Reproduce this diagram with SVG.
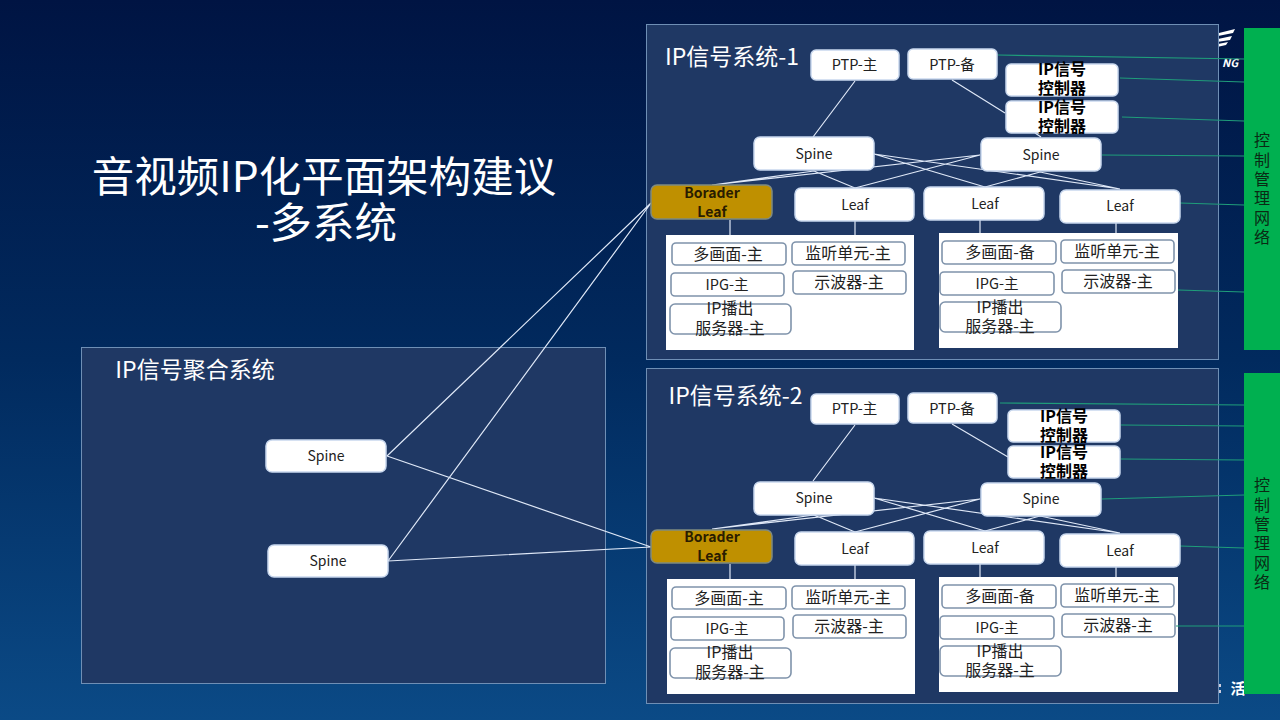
<svg xmlns="http://www.w3.org/2000/svg" width="1280" height="720" viewBox="0 0 1280 720">
<defs>
<linearGradient id="bg" x1="0" y1="0" x2="0" y2="1"><stop offset="0" stop-color="#001443"/><stop offset="0.5" stop-color="#012a5e"/><stop offset="1" stop-color="#0b4a86"/></linearGradient>
</defs>
<style>
text{font-family:"Noto Sans CJK SC","Noto Sans",sans-serif;text-anchor:middle}
.panel{fill:#1f3864;stroke:#6f8fb5;stroke-width:1}
.white{fill:#fff}
.n rect{fill:#fff;stroke:#c9d8ee;stroke-width:1.5}
.n text{font-size:14px;fill:#222}
.n .p{font-size:14.5px}
.b rect{fill:#fff;stroke:#7f93ab;stroke-width:1.6}
.b text{font-size:16px;fill:#222}
.b .i{font-size:14.5px}
.c rect{fill:#fff;stroke:#c9d8ee;stroke-width:1.5}
.c text{font-size:16px;font-family:"Noto Sans CJK SC",serif;font-weight:700;fill:#000}
.g rect{fill:#bf9000;stroke:#7f8a80;stroke-width:1.5}
.g text{font-size:14px;font-weight:700;fill:#2a1c00}
.t{font-size:23px;fill:#fff}
.w{stroke:#dfe8f7;stroke-width:1.2;fill:none}
.gr{stroke:#1f9d7a;stroke-width:1.2;fill:none}
.v{font-size:16px;fill:#0a2a14}
</style>
<rect width="1280" height="720" fill="url(#bg)"/>
<g id="logo"><path d="M1219 33l16-4-2 4-15 3zM1218 39l14-3-2 4-13 2zM1218 44l10-2-2 3-9 2z" fill="#fff"/>
<text x="1230" y="67" style="font-size:11px;font-weight:700;font-style:italic;fill:#fff">NG</text>
<text x="1238" y="694" style="font-size:15px;font-weight:700;fill:#fff">活</text>
<rect x="1219" y="684" width="2" height="3" fill="#ccd"/><rect x="1219" y="690" width="2" height="3" fill="#ccd"/></g>
<text x="324" y="192" style="font-size:42.500px;fill:#fff">音视频IP化平面架构建议</text>
<text x="326" y="238" style="font-size:42.500px;fill:#fff">-多系统</text>
<rect id="panel-1" class="panel" x="646.500" y="24.500" width="572" height="335"/>
<rect id="panel-2" class="panel" x="646.500" y="368.500" width="572" height="335"/>
<rect id="panel-agg" class="panel" x="81.500" y="347.500" width="524" height="336"/>
<rect class="white" x="666" y="235" width="248" height="115"/>
<rect class="white" x="939" y="233" width="239" height="115"/>
<rect class="white" x="667" y="579" width="248" height="115"/>
<rect class="white" x="939" y="577" width="239" height="115"/>
<g id="connectors">
<path class="w" d="M855 81L813 137M952 80L1005 113M1035 133L1041 137M814 171L855 188M874 154L985 187M874 154L1120 189M980 155L712 185M980 155L855 188M1040 172L985 187M814 171L712 185M1040 172L1120 189M730 220V235M855 221V235M980 220V233M1116 222V233"/>
<path class="w" d="M855 425L813 481M952 424L1008 457M814 515L855 532M874 498L985 531M874 498L1120 533M980 499L712 529M980 499L855 532M1040 516L985 531M814 515L712 529M1040 516L1120 533M730 564V579M855 565V579M980 564V577M1116 566V577"/>
<path class="w" d="M387 456L651 203M387 456L651 547M388 561L651 203M388 561L651 547"/>
<path class="gr" d="M998 55L1244 59M1120 78L1244 82M1122 117L1244 121M1102 155L1244 156M1180 203L1244 205M1178 290L1244 292M1000 403L1244 405M1121 425L1244 426M1121 459L1244 460M1102 499L1244 495M1180 546L1244 548M1176 626L1244 626"/>
</g>
<text class="t" x="732" y="65">IP信号系统-1</text>
<text class="t" x="735.500" y="404">IP信号系统-2</text>
<text class="t" x="195" y="378">IP信号聚合系统</text>
<g id="ag1" class="n"><rect x="266" y="440" width="120" height="32" rx="6"/><text x="326" y="461">Spine</text></g>
<g id="ag2" class="n"><rect x="268" y="545" width="120" height="32" rx="6"/><text x="328" y="566">Spine</text></g>

<g id="s1-ptp1" class="n"><rect x="811" y="50" width="88" height="30" rx="5"/><text class="p" x="854.500" y="70">PTP-主</text></g>
<g id="s1-ptp2" class="n"><rect x="908" y="49" width="89" height="30" rx="5"/><text class="p" x="952" y="70">PTP-备</text></g>
<g id="s1-c1" class="c"><rect x="1006" y="64" width="112" height="32" rx="5"/><text x="1062" y="75">IP信号</text><text x="1062" y="94">控制器</text></g>
<g id="s1-c2" class="c"><rect x="1006" y="101" width="112" height="32" rx="5"/><text x="1062" y="113">IP信号</text><text x="1062" y="132">控制器</text></g>
<g id="s1-sp1" class="n"><rect x="754" y="137" width="120" height="33" rx="6"/><text x="814" y="159">Spine</text></g>
<g id="s1-sp2" class="n"><rect x="981" y="138" width="120" height="33" rx="6"/><text x="1041" y="160">Spine</text></g>
<g id="s1-bl" class="g"><rect x="651" y="185" width="121" height="34" rx="6"/><text x="712" y="198">Borader</text><text x="712" y="217">Leaf</text></g>
<g id="s1-l1" class="n"><rect x="795" y="188" width="119" height="33" rx="6"/><text x="855" y="210">Leaf</text></g>
<g id="s1-l2" class="n"><rect x="924" y="187" width="120" height="33" rx="6"/><text x="985" y="209">Leaf</text></g>
<g id="s1-l3" class="n"><rect x="1060" y="190" width="120" height="33" rx="6"/><text x="1120" y="211">Leaf</text></g>
<g id="s1-a1" class="b"><rect x="672" y="243" width="114" height="22" rx="4"/><text x="728" y="260">多画面-主</text></g>
<g id="s1-a2" class="b"><rect x="792" y="242" width="113" height="23" rx="4"/><text x="848" y="259">监听单元-主</text></g>
<g id="s1-a3" class="b"><rect x="671" y="273" width="113" height="23" rx="4"/><text class="i" x="727" y="290">IPG-主</text></g>
<g id="s1-a4" class="b"><rect x="793" y="271" width="113" height="23" rx="4"/><text x="849" y="288">示波器-主</text></g>
<g id="s1-a5" class="b"><rect x="670" y="304" width="121" height="30" rx="5"/><text x="730" y="314">IP播出</text><text x="730" y="334">服务器-主</text></g>
<g id="s1-b1" class="b"><rect x="942" y="241" width="114" height="23" rx="4"/><text x="1000" y="258">多画面-备</text></g>
<g id="s1-b2" class="b"><rect x="1061" y="240" width="113" height="23" rx="4"/><text x="1117" y="257">监听单元-主</text></g>
<g id="s1-b3" class="b"><rect x="940" y="272" width="114" height="23" rx="4"/><text class="i" x="997" y="289">IPG-主</text></g>
<g id="s1-b4" class="b"><rect x="1062" y="270" width="113" height="23" rx="4"/><text x="1118" y="287">示波器-主</text></g>
<g id="s1-b5" class="b"><rect x="940" y="302" width="121" height="30" rx="5"/><text x="1000" y="313">IP播出</text><text x="1000" y="332">服务器-主</text></g>

<g id="s2-ptp1" class="n"><rect x="811" y="394" width="88" height="30" rx="5"/><text class="p" x="854.500" y="414">PTP-主</text></g>
<g id="s2-ptp2" class="n"><rect x="908" y="393" width="89" height="30" rx="5"/><text class="p" x="952" y="414">PTP-备</text></g>
<g id="s2-c1" class="c"><rect x="1008" y="410" width="112" height="32" rx="5"/><text x="1064" y="422">IP信号</text><text x="1064" y="441">控制器</text></g>
<g id="s2-c2" class="c"><rect x="1008" y="446" width="112" height="32" rx="5"/><text x="1064" y="458">IP信号</text><text x="1064" y="477">控制器</text></g>
<g id="s2-sp1" class="n"><rect x="754" y="482" width="120" height="33" rx="6"/><text x="814" y="503">Spine</text></g>
<g id="s2-sp2" class="n"><rect x="981" y="483" width="120" height="33" rx="6"/><text x="1041" y="504">Spine</text></g>
<g id="s2-bl" class="g"><rect x="651" y="530" width="121" height="33" rx="6"/><text x="712" y="542">Borader</text><text x="712" y="561">Leaf</text></g>
<g id="s2-l1" class="n"><rect x="795" y="532" width="119" height="33" rx="6"/><text x="855" y="554">Leaf</text></g>
<g id="s2-l2" class="n"><rect x="924" y="531" width="120" height="33" rx="6"/><text x="985" y="553">Leaf</text></g>
<g id="s2-l3" class="n"><rect x="1060" y="534" width="120" height="33" rx="6"/><text x="1120" y="556">Leaf</text></g>
<g id="s2-a1" class="b"><rect x="672" y="587" width="114" height="22" rx="4"/><text x="729" y="604">多画面-主</text></g>
<g id="s2-a2" class="b"><rect x="792" y="586" width="113" height="23" rx="4"/><text x="848" y="603">监听单元-主</text></g>
<g id="s2-a3" class="b"><rect x="671" y="617" width="113" height="23" rx="4"/><text class="i" x="727" y="634">IPG-主</text></g>
<g id="s2-a4" class="b"><rect x="793" y="615" width="113" height="23" rx="4"/><text x="849" y="632">示波器-主</text></g>
<g id="s2-a5" class="b"><rect x="670" y="648" width="121" height="30" rx="5"/><text x="730" y="658">IP播出</text><text x="730" y="678">服务器-主</text></g>
<g id="s2-b1" class="b"><rect x="942" y="585" width="114" height="23" rx="4"/><text x="1000" y="602">多画面-备</text></g>
<g id="s2-b2" class="b"><rect x="1061" y="584" width="113" height="23" rx="4"/><text x="1117" y="601">监听单元-主</text></g>
<g id="s2-b3" class="b"><rect x="940" y="616" width="114" height="23" rx="4"/><text class="i" x="997" y="633">IPG-主</text></g>
<g id="s2-b4" class="b"><rect x="1062" y="614" width="113" height="23" rx="4"/><text x="1118" y="631">示波器-主</text></g>
<g id="s2-b5" class="b"><rect x="940" y="646" width="121" height="30" rx="5"/><text x="1000" y="657">IP播出</text><text x="1000" y="676">服务器-主</text></g>

<g id="net-1"><rect x="1244" y="28" width="36" height="322" fill="#00b050"/>
<text class="v" x="1262" y="146">控</text><text class="v" x="1262" y="166">制</text><text class="v" x="1262" y="185">管</text><text class="v" x="1262" y="204">理</text><text class="v" x="1262" y="224">网</text><text class="v" x="1262" y="243">络</text></g>
<g id="net-2"><rect x="1244" y="373" width="36" height="321" fill="#00b050"/>
<text class="v" x="1262" y="491">控</text><text class="v" x="1262" y="511">制</text><text class="v" x="1262" y="530">管</text><text class="v" x="1262" y="549">理</text><text class="v" x="1262" y="569">网</text><text class="v" x="1262" y="588">络</text></g>
</svg>
